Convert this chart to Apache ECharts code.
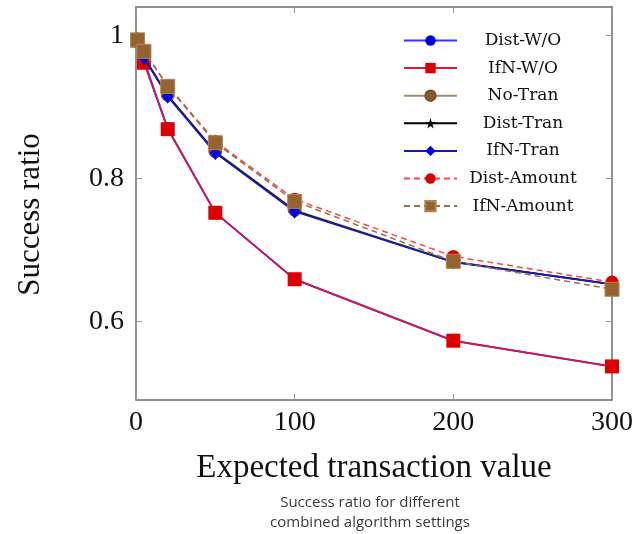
<!DOCTYPE html>
<html>
<head>
<meta charset="utf-8">
<script src="https://cdn.jsdelivr.net/npm/echarts@6/dist/echarts.min.js"></script>
<style>html,body{margin:0;padding:0;background:#fff;}#c{width:636px;height:534px;}</style>
</head>
<body>
<div id="c"></div>
<script>
var xValues = [1, 5, 20, 50, 100, 200, 300];
var distWO = [0.993, 0.965, 0.870, 0.752, 0.659, 0.573, 0.537];
var ifnWO = [0.993, 0.962, 0.869, 0.752, 0.659, 0.573, 0.537];
var noTran = [0.994, 0.970, 0.917, 0.838, 0.756, 0.684, 0.652];
var distTran = [0.994, 0.970, 0.916, 0.837, 0.755, 0.683, 0.652];
var ifnTran = [0.994, 0.969, 0.915, 0.836, 0.754, 0.683, 0.652];
var distAmount = [0.995, 0.978, 0.930, 0.852, 0.771, 0.691, 0.655];
var ifnAmount = [0.994, 0.978, 0.929, 0.850, 0.768, 0.684, 0.645];
var yTicks = [0.6, 0.8, 1];
var xTicks = [0, 100, 200, 300];
var seriesNames = ['Dist-W/O', 'IfN-W/O', 'No-Tran', 'Dist-Tran', 'IfN-Tran', 'Dist-Amount', 'IfN-Amount'];

function pairs(arr){ return xValues.map(function(x,i){ return [x, arr[i]]; }); }
var star = 'path://M50,0 L61,35 L98,35 L68,57 L79,91 L50,70 L21,91 L32,57 L2,35 L39,35 Z';
var serif = 'Liberation Serif';
var axisCol = '#6e6e6e';

var chart = echarts.init(document.getElementById('c'));
chart.setOption({
  animation: false,
  backgroundColor: '#fff',
  grid: {left: 136, top: 7, right: 23, bottom: 134},
  legend: {
    orient: 'vertical', left: 398, top: 27,
    itemWidth: 53, itemHeight: 13, itemGap: 10.6,
    data: seriesNames,
    formatter: '{a|{name}}',
    textStyle: {fontFamily: 'DejaVu Serif', fontSize: 17, color: '#111',
      rich: {a: {width: 122, align: 'center', fontFamily: 'DejaVu Serif', fontSize: 17, color: '#111'}}}
  },
  xAxis: [{
    type: 'value', min: 0, max: 300, interval: 100,
    name: 'Expected transaction value', nameLocation: 'middle', nameGap: 52,
    nameTextStyle: {fontFamily: serif, fontSize: 33, color: '#111'},
    axisLine: {show: true, onZero: false, lineStyle: {color: axisCol, width: 1.5}},
    axisTick: {show: true, inside: true, length: 6, lineStyle: {color: '#999'}},
    axisLabel: {fontFamily: serif, fontSize: 28, color: '#111', margin: 9,
      customValues: xTicks, formatter: function(v){return String(v);}},
    splitLine: {show: false}
  }, {
    type: 'value', min: 0, max: 300, interval: 100, position: 'top',
    axisLine: {show: true, onZero: false, lineStyle: {color: axisCol, width: 1.5}},
    axisTick: {show: true, inside: true, length: 6, lineStyle: {color: '#999'}},
    axisLabel: {show: false}, splitLine: {show: false}
  }],
  yAxis: [{
    type: 'value', min: 0.49, max: 1.04,
    name: 'Success ratio', nameLocation: 'middle', nameGap: 90,
    nameTextStyle: {fontFamily: serif, fontSize: 31, color: '#111', padding: [0, 22, 0, 0]},
    axisLine: {show: true, onZero: false, lineStyle: {color: axisCol, width: 1.5}},
    axisTick: {show: true, inside: true, length: 6, customValues: yTicks, lineStyle: {color: '#999'}},
    axisLabel: {fontFamily: serif, fontSize: 28, color: '#111', margin: 12,
      customValues: yTicks, formatter: function(v){return v === 1 ? '1' : v.toFixed(1);}},
    splitLine: {show: false}
  }, {
    type: 'value', min: 0.49, max: 1.04, position: 'right',
    axisLine: {show: true, onZero: false, lineStyle: {color: axisCol, width: 1.5}},
    axisTick: {show: true, inside: true, length: 6, customValues: yTicks, lineStyle: {color: '#999'}},
    axisLabel: {show: false}, splitLine: {show: false}
  }],
  series: [
    {name: 'Dist-W/O', type: 'line', data: pairs(distWO), symbol: 'circle', symbolSize: 13,
      itemStyle: {color: '#0000e0'}, lineStyle: {color: '#3333ff', width: 2}, z: 2},
    {name: 'IfN-W/O', type: 'line', data: pairs(ifnWO), symbol: 'rect', symbolSize: 14,
      itemStyle: {color: '#dd0000'}, lineStyle: {color: '#ee1133', width: 1.5}, z: 3},
    {name: 'No-Tran', type: 'line', data: pairs(noTran), symbol: 'circle', symbolSize: 13,
      itemStyle: {color: '#8b5a2b', borderColor: '#7a4f26', borderWidth: 1}, lineStyle: {color: '#a88a6a', width: 1.5}, z: 2},
    {name: 'Dist-Tran', type: 'line', data: pairs(distTran), symbol: star, symbolSize: 9,
      itemStyle: {color: '#000'}, lineStyle: {color: '#000', width: 1.5}, z: 3},
    {name: 'IfN-Tran', type: 'line', data: pairs(ifnTran), symbol: 'diamond', symbolSize: [11, 15],
      itemStyle: {color: '#0000f0'}, lineStyle: {color: '#1a1aaa', width: 2}, z: 4},
    {name: 'Dist-Amount', type: 'line', data: pairs(distAmount), symbol: 'circle', symbolSize: 13,
      itemStyle: {color: '#dd0000'}, lineStyle: {color: '#ff4444', width: 1.5, type: [6, 4]}, z: 5},
    {name: 'IfN-Amount', type: 'line', data: pairs(ifnAmount), symbol: 'rect', symbolSize: 14,
      itemStyle: {color: '#94632f', borderColor: '#b08552', borderWidth: 1}, lineStyle: {color: '#9a6e48', width: 1.5, type: [6, 4]}, z: 6}
  ],
  graphic: [{
    type: 'text', x: 370, y: 493,
    style: {text: 'Success ratio for different\ncombined algorithm settings', fontFamily: 'Open Sans', fontSize: 15,
      lineHeight: 20, fill: '#3a3a3a', align: 'center', verticalAlign: 'top'}
  }]
});
</script>
</body>
</html>
